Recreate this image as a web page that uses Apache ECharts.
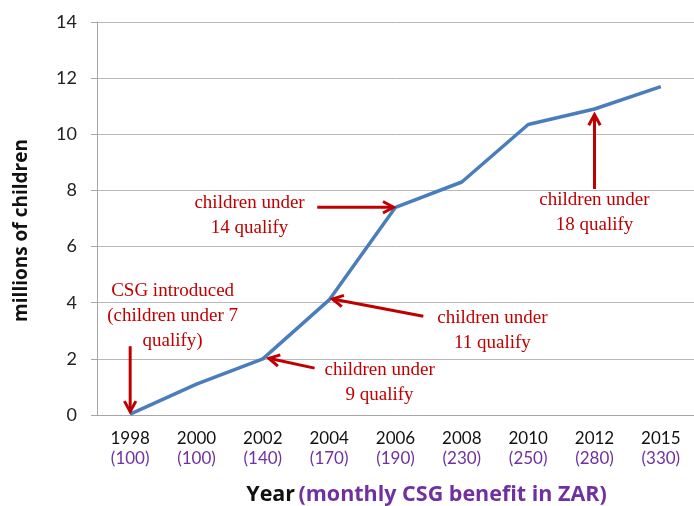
<!DOCTYPE html>
<html>
<head>
<meta charset="utf-8">
<script src="https://cdn.jsdelivr.net/npm/echarts@6/dist/echarts.min.js"></script>
<style>
html,body{margin:0;padding:0;background:#fff;}
#chart{width:694px;height:506px;}
</style>
</head>
<body>
<div id="chart"></div>
<script>
//年份 / 每月补助
var years = ['1998', '2000', '2002', '2004', '2006', '2008', '2010', '2012', '2015'];
var benefits = ['100', '100', '140', '170', '190', '230', '250', '280', '330'];
//儿童人数（百万）
var children = [0.03, 1.1, 2.0, 4.1, 7.4, 8.3, 10.35, 10.9, 11.7];
var yTicks = [0, 2, 4, 6, 8, 10, 12, 14];

//注释：文字位置与箭头（数据坐标，x为类目序号）
var notes = [
	{"lines" : ["CSG introduced", "(children under 7", "qualify)"], "at" : [0.64, 4.4], "from" : [0, 2.45], "to" : [0, 0.12]},
	{"lines" : ["children under", "14 qualify"], "at" : [1.8, 7.55], "from" : [2.82, 7.4], "to" : [3.97, 7.4]},
	{"lines" : ["children under", "11 qualify"], "at" : [5.46, 3.45], "from" : [4.42, 3.52], "to" : [3.05, 4.13]},
	{"lines" : ["children under", "9 qualify"], "at" : [3.76, 1.6], "from" : [2.78, 1.67], "to" : [2.09, 2.02]},
	{"lines" : ["children under", "18 qualify"], "at" : [7.0, 7.65], "from" : [7.0, 8.05], "to" : [7.0, 10.7]}
];

var red = '#c00000';
var purple = '#7030a0';

option = {
	backgroundColor: '#fff',
	animation: false,
	grid: {left: 97, right: 0, top: 22, bottom: 91, containLabel: false, outerBoundsMode: 'none'},
	xAxis: [{
		type: 'category',
		data: years,
		boundaryGap: true,
		axisLine: {lineStyle: {color: '#a6a6a6', width: 1}},
		axisTick: {show: false},
		axisLabel: {
			margin: 14,
			interval: 0,
			formatter: function(v, i){ return '{y|' + v + '}\n{b|(' + benefits[i] + ')}'; },
			rich: {
				y: {fontFamily: 'Lato', fontSize: 17, color: '#111', lineHeight: 20},
				b: {fontFamily: 'Lato', fontSize: 17, color: purple, lineHeight: 20}
			}
		},
		name: '{a|Year} {b|(monthly CSG benefit in ZAR)}',
		nameLocation: 'middle',
		nameGap: 69,
		nameTextStyle: {
			padding: [0, 0, 0, 62],
			rich: {
				a: {fontFamily: 'Open Sans', fontWeight: 'bold', fontSize: 21.5, color: '#111'},
				b: {fontFamily: 'Open Sans', fontWeight: 'bold', fontSize: 21.5, color: purple}
			}
		}
	}, {
		type: 'value',
		min: -0.5,
		max: 8.5,
		show: false
	}],
	yAxis: {
		type: 'value',
		min: 0,
		max: 14,
		interval: 2,
		axisLine: {show: true, onZero: false, lineStyle: {color: '#a6a6a6'}},
		axisTick: {show: true, length: 6, lineStyle: {color: '#a6a6a6'}},
		splitLine: {lineStyle: {color: '#b8b8b8', width: 1}},
		axisLabel: {margin: 20, fontFamily: 'Lato', fontSize: 18, color: '#222'},
		name: 'millions of children',
		nameLocation: 'middle',
		nameGap: 66,
		nameTextStyle: {fontFamily: 'Open Sans', fontWeight: 'bold', fontSize: 19, color: '#111', padding: [0, 0, 0, -24]}
	},
	series: [{
		type: 'line',
		data: children,
		symbol: 'none',
		lineStyle: {color: '#4a7ebb', width: 3.5},
		z: 3
	}, {
		type: 'scatter',
		xAxisIndex: 1,
		data: [],
		silent: true
	}]
};
var myChart = echarts.init(document.getElementById('chart'));
myChart.setOption(option, true);

//画注释
function px(p){ return myChart.convertToPixel({xAxisIndex: 1, yAxisIndex: 0}, p); }
var graphics = [];
for(var i in notes){
	var n = notes[i];
	var c = px(n.at);
	for(var k = 0; k < n.lines.length; k++){
		graphics.push({
			type: 'text', z: 10,
			style: {
				x: c[0], y: c[1] + k * 25, text: n.lines[k],
				fill: red, font: '19px "Liberation Serif", "DejaVu Serif", serif',
				align: 'center', verticalAlign: 'middle'
			}
		});
	}
	var a = px(n.from), b = px(n.to);
	var ang = Math.atan2(b[1] - a[1], b[0] - a[0]);
	var hl = 12, hw = 0.5;
	graphics.push({
		type: 'line', z: 10,
		shape: {x1: a[0], y1: a[1], x2: b[0], y2: b[1]},
		style: {stroke: red, lineWidth: 3}
	});
	graphics.push({
		type: 'polyline', z: 10,
		shape: {points: [
			[b[0] - hl * Math.cos(ang - hw), b[1] - hl * Math.sin(ang - hw)],
			[b[0], b[1]],
			[b[0] - hl * Math.cos(ang + hw), b[1] - hl * Math.sin(ang + hw)]
		]},
		style: {stroke: red, lineWidth: 3, fill: null}
	});
}
myChart.setOption({graphic: graphics});
</script>
</body>
</html>
